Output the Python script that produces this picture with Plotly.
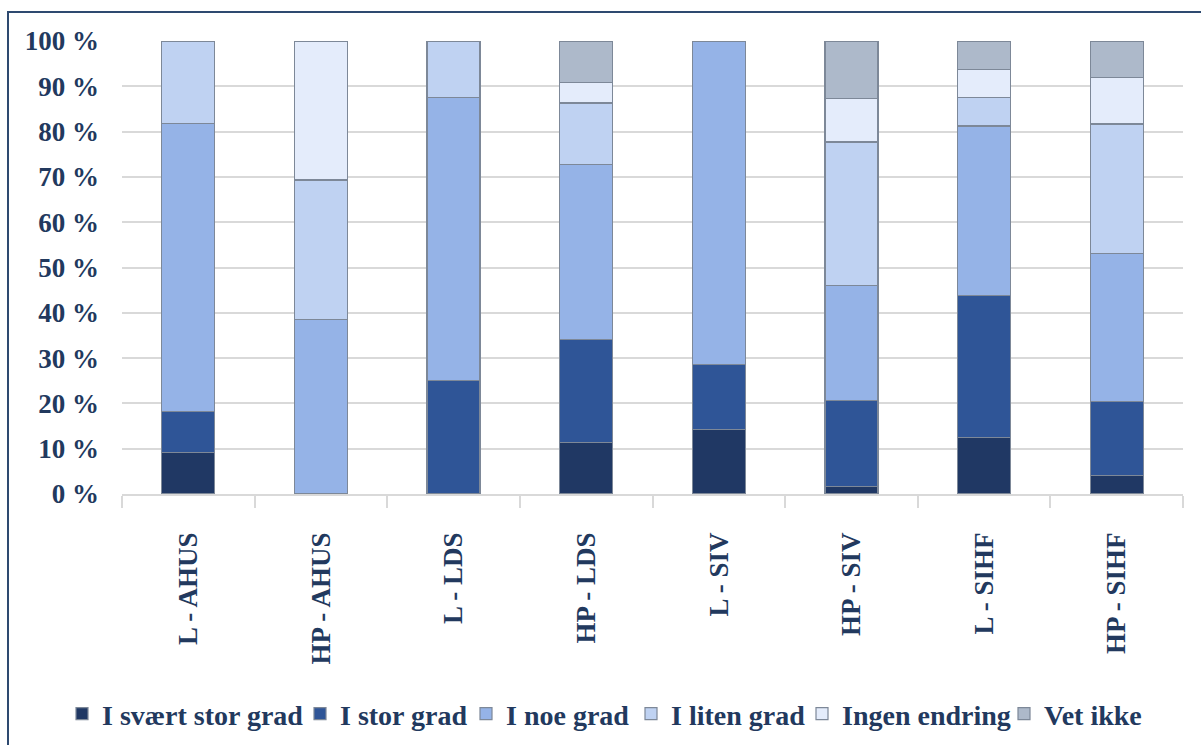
import plotly.graph_objects as go

categories = ["L - AHUS", "HP - AHUS", "L - LDS", "HP - LDS", "L - SIV", "HP - SIV", "L - SIHF", "HP - SIHF"]

series_names = ["I svært stor grad", "I stor grad", "I noe grad", "I liten grad", "Ingen endring", "Vet ikke"]

svaert_stor = [9.1, 0.0, 0.0, 11.4, 14.3, 1.6, 12.5, 4.1]
stor = [9.1, 0.0, 25.0, 22.7, 14.3, 19.0, 31.25, 16.3]
noe = [63.6, 38.5, 62.5, 38.6, 71.4, 25.4, 37.5, 32.7]
liten = [18.2, 30.8, 12.5, 13.6, 0.0, 31.7, 6.25, 28.6]
ingen = [0.0, 30.7, 0.0, 4.6, 0.0, 9.6, 6.25, 10.2]
vet_ikke = [0.0, 0.0, 0.0, 9.1, 0.0, 12.7, 6.25, 8.1]

tick_vals = [0, 10, 20, 30, 40, 50, 60, 70, 80, 90, 100]
tick_text = ["0 %", "10 %", "20 %", "30 %", "40 %", "50 %", "60 %", "70 %", "80 %", "90 %", "100 %"]

colors = ["#203864", "#2f5597", "#95b3e7", "#bfd2f2", "#e4ecfb", "#adb9ca"]
values = [svaert_stor, stor, noe, liten, ingen, vet_ikke]

# pixel x where each legend entry's text starts in the reference
legend_text_x = [102, 340, 506, 671, 842, 1044]

TEXT = "#22395e"
FONT = "Liberation Serif"
FS = 27
LFS = 28

# plot area in pixels: x 122..1183, y 41..494
L, R, T, B = 122, 1183, 41, 494
W, H = 1201, 745
pw, ph = R - L, B - T

def px(x):
    return (x - L) / pw

def py(y):
    return (B - y) / ph

fig = go.Figure()
legend_layouts = {}
for i, (name, vals, col) in enumerate(zip(series_names, values, colors)):
    key = "legend" if i == 0 else f"legend{i + 1}"
    fig.add_trace(go.Bar(
        x=categories, y=vals, name=name, legend=key,
        marker=dict(color=col, line=dict(color="#7d8898", width=1.2)),
    ))
    legend_layouts[key] = dict(
        orientation="h", x=px(legend_text_x[i] - 40), xanchor="left",
        y=py(714), yanchor="middle",
        font=dict(family=FONT, size=LFS, color=TEXT, weight="bold"),
        itemwidth=30, bgcolor="rgba(0,0,0,0)", borderwidth=0,
    )

fig.update_layout(
    width=W, height=H,
    margin=dict(l=L, r=W - R, t=T, b=H - B, pad=0, autoexpand=False),
    barmode="stack",
    bargap=0.6,
    plot_bgcolor="white",
    paper_bgcolor="white",
    font=dict(family=FONT, color=TEXT, size=FS, weight="bold"),
    showlegend=True,
    xaxis=dict(
        type="category",
        tickangle=-90,
        showline=True, linecolor="#d9d9d9", linewidth=1.5,
        ticks="outside", tickson="boundaries", ticklen=12, tickcolor="#d9d9d9", tickwidth=1.5,
        tickfont=dict(family=FONT, size=FS, color=TEXT, weight="bold"),
        showgrid=False,
        ticklabelstandoff=26,
        automargin=False,
    ),
    yaxis=dict(
        range=[0, 100],
        tickvals=tick_vals, ticktext=tick_text,
        showgrid=True, gridcolor="#d9d9d9", gridwidth=1.5,
        zeroline=False, showline=False,
        tickfont=dict(family=FONT, size=FS, color=TEXT, weight="bold"),
        ticklabelstandoff=22,
        automargin=False,
    ),
    shapes=[dict(
        type="rect", xref="paper", yref="paper",
        x0=px(8), x1=px(1215), y0=py(12), y1=py(760),
        line=dict(color="#2e4a70", width=2), fillcolor="rgba(0,0,0,0)", layer="below",
    )],
    **legend_layouts,
)

fig.write_html("out.html")
